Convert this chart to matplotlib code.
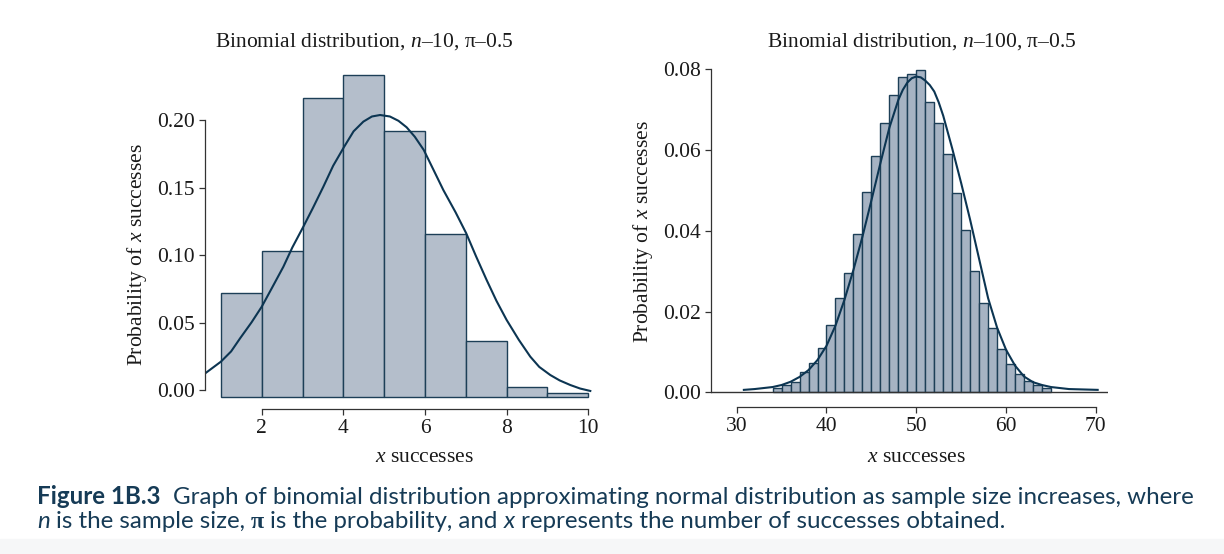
import matplotlib
matplotlib.use("Agg")
import matplotlib.pyplot as plt
from matplotlib.transforms import IdentityTransform

# ---- data ----
# left panel: n=10, bins [k, k+1]
left_edges = [1, 2, 3, 4, 5, 6, 7, 8, 9]
left_probs = [0.0770, 0.1086, 0.2219, 0.2385, 0.1973, 0.1212, 0.0419, 0.0074, 0.0030]
left_curve_x = [0.635, 1.0, 1.25, 1.47, 1.75, 2.0, 2.25, 2.53, 2.75, 3.02, 3.25,
                3.51, 3.75, 4.02, 4.25, 4.49, 4.70, 4.90, 5.14, 5.35, 5.55, 5.75,
                5.97, 6.2, 6.45, 6.75, 7.01, 7.25, 7.51, 7.75, 8.0, 8.3, 8.58, 8.8,
                9.07, 9.3, 9.56, 9.8, 10.05]
left_curve_y = [0.0182, 0.0264, 0.0340, 0.0437, 0.0555, 0.0671, 0.0810, 0.0967,
                0.1110, 0.1264, 0.1400, 0.1560, 0.1715, 0.1856, 0.1970, 0.2042,
                0.2080, 0.2091, 0.2080, 0.2048, 0.2000, 0.1930, 0.1832, 0.1690,
                0.1535, 0.1370, 0.1215, 0.1045, 0.0869, 0.0715, 0.0573, 0.0425,
                0.0301, 0.0225, 0.0165, 0.0125, 0.0091, 0.0065, 0.0047]
left_xticks = [2, 4, 6, 8, 10]
left_yticks = [0.00, 0.05, 0.10, 0.15, 0.20]

# right panel: n=100
right_edges = list(range(34, 65))
right_probs = [0.0010, 0.0018, 0.0026, 0.0050, 0.0072, 0.0110, 0.0167, 0.0233,
               0.0296, 0.0393, 0.0497, 0.0584, 0.0668, 0.0737, 0.0780, 0.0788,
               0.0797, 0.0718, 0.0666, 0.0589, 0.0493, 0.0403, 0.0301, 0.0222,
               0.0158, 0.0107, 0.0071, 0.0045, 0.0029, 0.0018, 0.0011]
right_curve_x = [30.8, 32, 34, 35, 36, 37, 38, 39, 40, 41, 42, 43, 44, 45, 46, 47,
                 48, 48.5, 49, 49.5, 50, 50.5, 51, 51.5, 52, 52.5, 53, 54, 55, 56,
                 57, 58, 59, 60, 61, 62, 63, 64, 65, 67, 70.2]
right_curve_y = [0.0006, 0.0008, 0.0013, 0.0018, 0.0026, 0.0038, 0.0055, 0.0080,
                 0.0115, 0.0165, 0.0229, 0.0303, 0.0385, 0.0475, 0.0567, 0.0655,
                 0.0724, 0.0749, 0.0767, 0.0778, 0.0782, 0.0780, 0.0772, 0.0761,
                 0.0745, 0.0718, 0.0685, 0.0604, 0.0518, 0.0427, 0.0330, 0.0233,
                 0.0160, 0.0105, 0.0066, 0.0039, 0.0025, 0.0018, 0.0013, 0.0008,
                 0.0006]
right_xticks = [30, 40, 50, 60, 70]
right_yticks = [0.00, 0.02, 0.04, 0.06, 0.08]

W, H = 1224, 554
SERIF = "Liberation Serif"
EDGE = "#1d3f57"
CURVE = "#0c3552"
INK = "#1a1a1a"
FS = 15.5

plt.rcParams["mathtext.fontset"] = "custom"
plt.rcParams["mathtext.rm"] = SERIF
plt.rcParams["mathtext.it"] = SERIF + ":italic"
plt.rcParams["font.family"] = SERIF

fig = plt.figure(figsize=(W / 100, H / 100), dpi=100)


def axes_px(x0, y0, x1, y1):
    # box in image pixels (top-left origin)
    return fig.add_axes([x0 / W, 1 - y1 / H, (x1 - x0) / W, (y1 - y0) / H])


def style(ax, xb, yb, xt, yt, fmt):
    for s in ("top", "right"):
        ax.spines[s].set_visible(False)
    ax.spines["bottom"].set_bounds(*xb)
    ax.spines["left"].set_bounds(*yb)
    for s in ("bottom", "left"):
        ax.spines[s].set_linewidth(0.9)
        ax.spines[s].set_color("#333333")
    ax.set_xticks(xt)
    ax.set_yticks(yt)
    ax.set_yticklabels([fmt % v for v in yt])
    ax.tick_params(direction="out", length=4.5, width=0.9, pad=3,
                   labelsize=FS, colors="#333333", labelcolor=INK)
    ax.patch.set_visible(False)


# left panel
axL = axes_px(205, 66, 596, 409)
base = -0.0054   # bars sit a little below the 0.00 tick in the reference
axL.bar(left_edges, left_probs, width=1.0, align="edge", bottom=base,
        color="#b4becb", edgecolor=EDGE, linewidth=1.0)
axL.plot(left_curve_x, [v + base for v in left_curve_y], color=CURVE, lw=1.5)
axL.set_xlim(0.61, 10.19)
axL.set_ylim(-0.01407, 0.24)
style(axL, (2, 10), (0, 0.2), left_xticks, left_yticks, "%.2f")

# right panel
axR = axes_px(711, 60, 1108, 406.5)
axR.bar(right_edges, right_probs, width=1.0, align="edge",
        color="#a6b3c3", edgecolor=EDGE, linewidth=1.0)
axR.plot(right_curve_x, right_curve_y, color=CURVE, lw=1.5)
axR.axhline(0, color="#333333", lw=1.0)
axR.set_xlim(27.14, 71.35)
axR.set_ylim(-0.00352, 0.0823)
style(axR, (30, 70), (0, 0.08), right_xticks, right_yticks, "%.2f")

# chart texts (pixel positions)
def label(x, y, s, **kw):
    fig.text(x / W, 1 - y / H, s, ha="center", va="center", color=INK,
             fontsize=FS, **kw)

label(364, 42, r"Binomial distribution, $n$–10, π–0.5")
label(922, 42, r"Binomial distribution, $n$–100, π–0.5")
label(424, 458, r"$x$ successes")
label(916, 458, r"$x$ successes")
label(137, 255, r"Probability of $x$ successes", rotation=90)
label(643, 232, r"Probability of $x$ successes", rotation=90)

# faint band under the caption
fig.patches.append(plt.Rectangle((0, 0), 1, 15 / H, transform=fig.transFigure,
                                 color="#f6f7f8", zorder=0))

renderer = fig.canvas.get_renderer()
CAP = "#163b56"
SANS = "Lato"


def run_width(s, fp):
    t = fig.text(0, 0, s, transform=IdentityTransform(), **fp)
    w = t.get_window_extent(renderer).width
    t.remove()
    return w


def runs(x, y_img, parts, size):
    y = H - y_img
    for s, fam, weight, st in parts:
        fp = dict(family=fam, weight=weight, style=st, fontsize=size)
        sp = run_width("a a", fp) - run_width("aa", fp)
        core = s.strip(" ")
        x += (len(s) - len(s.lstrip(" "))) * sp
        t = fig.text(x, y, core, transform=IdentityTransform(), color=CAP,
                     va="baseline", ha="left", **fp)
        x += t.get_window_extent(renderer).width
        x += (len(s) - len(s.rstrip(" "))) * sp


CS = 17.4
runs(37, 504, [("Figure 1B.3", SANS, "bold", "normal"),
               ("  Graph of binomial distribution approximating normal distribution "
                "as sample size increases, where", SANS, "normal", "normal")], CS)
runs(37, 528, [("n", SANS, "normal", "italic"),
               (" is the sample size, ", SANS, "normal", "normal"),
               ("π", SERIF, "bold", "normal"),
               (" is the probability, and ", SANS, "normal", "normal"),
               ("x", SANS, "normal", "italic"),
               (" represents the number of successes obtained.", SANS, "normal", "normal")],
     CS)

fig.savefig("out.png", dpi=100)
